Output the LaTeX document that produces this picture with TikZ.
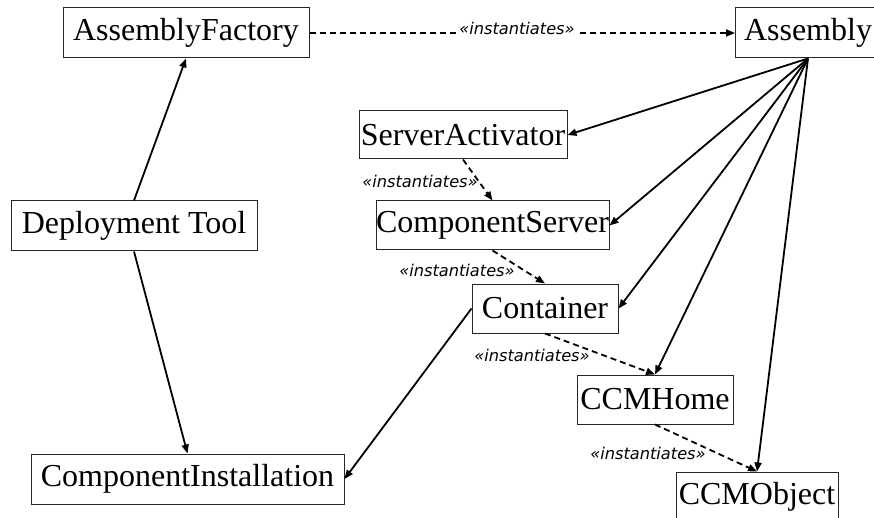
\documentclass[tikz,border=0pt]{standalone}
\usepackage{fontspec}
\setmainfont{Liberation Serif}
\newfontfamily\lblfont{DejaVu Sans}
\usetikzlibrary{arrows.meta}
\begin{document}
\begin{tikzpicture}[x=1pt,y=-1pt,
  box/.style={draw=black!85,line width=1pt,rectangle,inner sep=0pt,font=\fontsize{32}{34}\selectfont,fill=white},
  solidarr/.style={line width=1.8pt,-{Triangle[length=9pt,width=7pt]}},
  dasharr/.style={line width=1.8pt,dash pattern=on 6pt off 4pt,-{Triangle[length=9pt,width=7pt]}},
  lbl/.style={font=\lblfont\itshape\fontsize{16.2}{18}\selectfont,inner sep=0pt}]
\useasboundingbox (0,0) rectangle (874,518);
\node[box,minimum width=246pt,minimum height=50pt] (AF) at (186,33) {AssemblyFactory};
\node[box,minimum width=145pt,minimum height=50pt,text width=140pt,align=left] (AS) at (808,33) {\hspace*{6pt}Assembly};
\node[box,minimum width=208pt,minimum height=48pt] (SA) at (463,135) {ServerActivator};
\node[box,minimum width=233pt,minimum height=49pt] (CS) at (492.5,225.5) {ComponentServer};
\node[box,minimum width=146pt,minimum height=49pt] (CO) at (545,308.5) {Container};
\node[box,minimum width=156pt,minimum height=49pt] (CH) at (655,399.5) {CCMHome};
\node[box,minimum width=162pt,minimum height=50pt] (OB) at (757,497) {CCMObject};
\node[box,minimum width=246pt,minimum height=50pt] (DT) at (134,226) {Deployment Tool};
\node[box,minimum width=313pt,minimum height=50pt] (CI) at (187.5,479) {ComponentInstallation};

\draw[dasharr] (AF.east) -- (AS.west);
\node[lbl,fill=white,inner xsep=2pt,inner ysep=4pt] (L1) at (517,28) {«instantiates»};

\draw[solidarr] (DT.north) -- (AF.south);
\draw[solidarr] (DT.south) -- (CI.north);
\draw[solidarr] (CO.west) -- (CI.east);

\draw[solidarr] (AS.south) -- (SA.east);
\draw[solidarr] (AS.south) -- (CS.east);
\draw[solidarr] (AS.south) -- (CO.east);
\draw[solidarr] (AS.south) -- (CH.north);
\draw[solidarr] (AS.south) -- (OB.north);

\draw[dasharr] (SA.south) -- (CS.north);
\draw[dasharr] (CS.south) -- (CO.north);
\draw[dasharr] (CO.south) -- (CH.north);
\draw[dasharr] (CH.south) -- (OB.north);

\node[lbl] (L2) at (420,181) {«instantiates»};
\node[lbl] (L3) at (457,270) {«instantiates»};
\node[lbl] (L4) at (532,355) {«instantiates»};
\node[lbl] (L5) at (648,453) {«instantiates»};
\end{tikzpicture}
\end{document}
